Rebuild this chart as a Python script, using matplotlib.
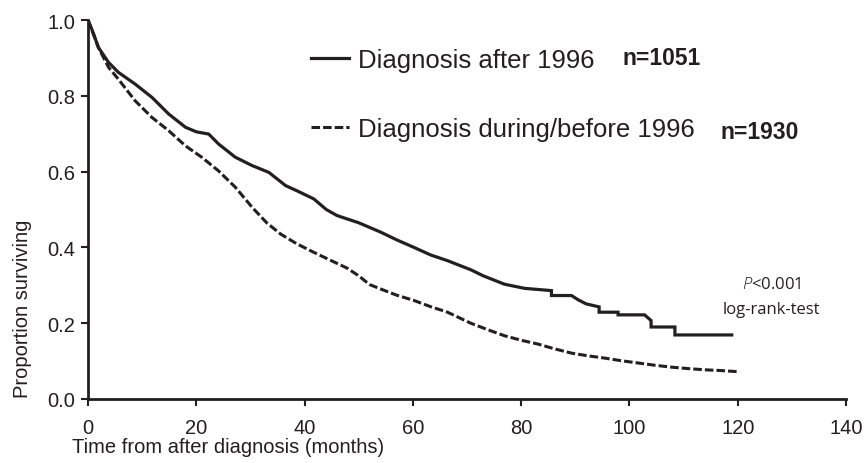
import matplotlib
matplotlib.use("Agg")
import matplotlib.pyplot as plt

#### dati ####
t_dopo = [0, 1, 1.9, 3.8, 5.6, 8.7, 11.8, 14.9, 18.0, 20.0, 22.3, 24.1, 27.2, 30.3,
          33.4, 36.5, 38.5, 41.7, 44, 46, 50, 54.1, 57, 60.2, 63.3, 66.4, 70.7, 73,
          76.9, 80.6, 85.6, 85.6, 89.3, 90.5, 92, 94.4, 94.4, 97.9, 97.9, 102.8,
          104, 104, 108.4, 108.4, 118.9]
s_dopo = [1.0, 0.965, 0.928, 0.888, 0.862, 0.831, 0.796, 0.752, 0.717, 0.705, 0.699,
          0.673, 0.638, 0.616, 0.598, 0.563, 0.55, 0.528, 0.50, 0.484, 0.465, 0.44,
          0.42, 0.40, 0.38, 0.365, 0.341, 0.325, 0.303, 0.292, 0.286, 0.273, 0.273,
          0.262, 0.251, 0.243, 0.229, 0.229, 0.222, 0.222, 0.207, 0.19, 0.19, 0.169,
          0.169]

t_prima = [0, 1, 2, 3.8, 5.6, 8.7, 11.8, 14.9, 18.0, 21.0, 24.1, 27.2, 30.3, 33,
           35.6, 38.5, 41.7, 44.5, 47.9, 50, 52, 54.1, 57, 60.2, 63, 66.4, 70.7,
           73.8, 76.9, 80, 83.1, 86, 89.3, 92.3, 95.4, 98.5, 101.6, 104.7, 107.8,
           111, 114, 117, 120.1]
s_prima = [1.0, 0.962, 0.925, 0.875, 0.844, 0.787, 0.743, 0.708, 0.668, 0.638, 0.602,
           0.559, 0.506, 0.465, 0.435, 0.41, 0.387, 0.368, 0.345, 0.325, 0.302, 0.29,
           0.274, 0.26, 0.245, 0.229, 0.2, 0.183, 0.167, 0.155, 0.145, 0.133, 0.121,
           0.114, 0.108, 0.101, 0.095, 0.089, 0.084, 0.08, 0.077, 0.075, 0.072]

etichette = ["Diagnosis after 1996", "Diagnosis during/before 1996"]
numeri = ["n=1051", "n=1930"]
x_ticks = [0, 20, 40, 60, 80, 100, 120, 140]
y_ticks = [0.0, 0.2, 0.4, 0.6, 0.8, 1.0]

NERO = "#231f20"
plt.rcParams["font.family"] = ["Liberation Sans", "DejaVu Sans"]
plt.rcParams["mathtext.fontset"] = "custom"
plt.rcParams["mathtext.it"] = "Open Sans:italic:light"

fig = plt.figure(figsize=(8.64, 4.64), dpi=100)
ax = fig.add_axes([88 / 864, 64 / 464, 758 / 864, 379 / 464])

l1, = ax.plot(t_dopo, s_dopo, color=NERO, lw=2.3, solid_joinstyle="miter")
l2, = ax.plot(t_prima, s_prima, color=NERO, lw=2.2, linestyle=(0, (2.8, 1.0)))

ax.set_xlim(0, 140)
ax.set_ylim(0, 1.0)
ax.set_xticks(x_ticks)
ax.set_yticks(y_ticks)
ax.set_yticklabels(["%.1f" % v for v in y_ticks])
for s in ["top", "right"]:
    ax.spines[s].set_visible(False)
for s in ["left", "bottom"]:
    ax.spines[s].set_linewidth(2.0)
    ax.spines[s].set_color(NERO)
ax.tick_params(direction="out", length=5, width=1.5, colors=NERO,
               labelsize=14.5, labelcolor=NERO, pad=4)
ax.tick_params(axis="x", pad=9)

ax.set_ylabel("Proportion surviving", fontsize=14.5, color=NERO, loc="bottom")
ax.yaxis.set_label_coords(-0.074, 0.005)
ax.set_xlabel("Time from after diagnosis (months)", fontsize=14.5, color=NERO, loc="left")
ax.xaxis.set_label_coords(-0.021, -0.1)

leg = ax.legend([l1, l2], etichette, loc="upper left",
                bbox_to_anchor=(311 / 864, 1 - 49 / 464), bbox_transform=fig.transFigure,
                frameon=False, fontsize=18.5, handlelength=1.48, handletextpad=0.33,
                labelspacing=1.74, borderpad=0, borderaxespad=0)
for t in leg.get_texts():
    t.set_color(NERO)

fig.text(622 / 864, 1 - 65 / 464, numeri[0], fontsize=16.5, fontweight="bold",
         color=NERO, va="baseline")
fig.text(720 / 864, 1 - 139 / 464, numeri[1], fontsize=16.5, fontweight="bold",
         color=NERO, va="baseline")

ax.text(126.3, 0.303, r"$\it{P}$<0.001", fontsize=12, color=NERO,
        ha="center", va="center", family=["Open Sans", "DejaVu Sans"])
ax.text(126.3, 0.237, "log-rank-test", fontsize=12, color=NERO,
        ha="center", va="center", family=["Open Sans", "DejaVu Sans"])

fig.savefig("out.png", dpi=100)
